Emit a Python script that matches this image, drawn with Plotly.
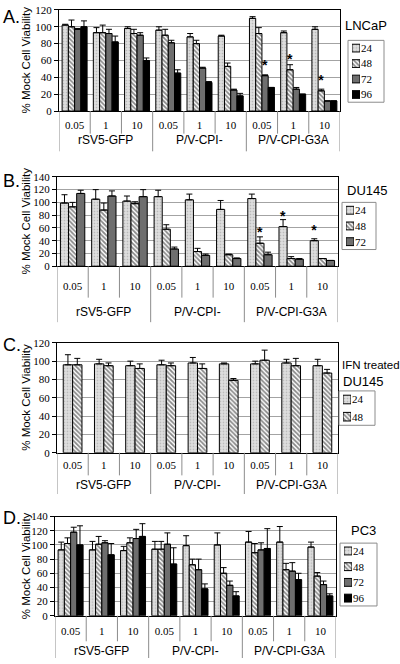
import plotly.graph_objects as go

W, H = 400, 664
SERIF = "Liberation Serif, Times New Roman, serif"
SANS = "Liberation Sans, Arial, sans-serif"

# ---------------- data ----------------
groups = ["rSV5-GFP", "P/V-CPI-", "P/V-CPI-G3A"]
doses = ["0.05", "1", "10"]
categories = [f"{g} {d}" for g in groups for d in doses]
dose_ticks = [d for g in groups for d in doses]

hours_4 = ["24", "48", "72", "96"]
hours_3 = ["24", "48", "72"]
hours_2 = ["24", "48"]

# A. LNCaP
A_24 = [102, 93, 98, 96, 88, 89, 110, 93, 97]
A_24_err = [1, 6, 2, 4, 4, 1, 2, 2, 3]
A_48 = [100, 93, 92, 90, 80, 53, 92, 49, 24]
A_48_err = [8, 9, 5, 7, 4, 4, 7, 6, 2]
A_72 = [97, 92, 90, 81, 51, 25, 42, 26, 12]
A_72_err = [1, 5, 3, 3, 1, 1, 1, 2, 0]
A_96 = [100, 82, 60, 45, 34, 18, 28, 20, 12]
A_96_err = [7, 7, 3, 4, 1, 3, 0, 0, 0]
A_stars = [[], [7, 8], [6], []]

# B. DU145
B_24 = [99, 105, 102, 109, 104, 89, 106, 62, 40]
B_24_err = [13, 15, 8, 10, 9, 14, 7, 11, 3]
B_48 = [93, 88, 98, 58, 23, 18, 36, 12, 12]
B_48_err = [7, 11, 3, 7, 5, 1, 10, 3, 0]
B_72 = [114, 110, 109, 27, 17, 12, 18, 11, 9]
B_72_err = [5, 8, 11, 3, 2, 1, 4, 1, 0]
B_stars = [[7, 8], [6], []]

# C. IFN treated DU145
C_24 = [96, 97, 95, 96, 98, 97, 97, 98, 95]
C_24_err = [11, 5, 5, 5, 6, 1, 3, 4, 7]
C_48 = [96, 95, 92, 95, 92, 79, 101, 95, 87]
C_48_err = [7, 3, 5, 3, 5, 2, 11, 8, 4]
C_stars = [[], []]

# D. PC3
D_24 = [93, 93, 92, 94, 99, 100, 104, 104, 97]
D_24_err = [11, 12, 6, 11, 14, 17, 15, 22, 7]
D_48 = [102, 101, 103, 94, 72, 60, 89, 65, 56]
D_48_err = [8, 11, 7, 11, 8, 8, 13, 9, 5]
D_72 = [118, 103, 109, 101, 65, 43, 93, 63, 44]
D_72_err = [7, 3, 13, 16, 15, 6, 10, 12, 5]
D_96 = [100, 86, 112, 73, 38, 28, 95, 51, 28]
D_96_err = [27, 16, 18, 23, 7, 6, 28, 9, 3]
D_stars = [[], [], [], []]

# ---------------- styles ----------------
STYLE = {
    "24": dict(color="#dcdcdc", pattern=dict(shape=".", fgcolor="#8e8e8e", bgcolor="#dedede", size=3, solidity=0.25)),
    "48": dict(color="white", pattern=dict(shape="\\", fgcolor="#111111", bgcolor="white", size=3.2, solidity=0.55)),
    "72": dict(color="#6e6e6e"),
    "96": dict(color="#000000"),
}

panels = [
    dict(letter="A.", hours=hours_4, values=[A_24, A_48, A_72, A_96],
         errors=[A_24_err, A_48_err, A_72_err, A_96_err], stars=A_stars, ymax=120,
         box=(59, 4, 340, 107), bw=0.2, tl=4, short=23, long=41, grp=29, letter_y=11,
         lbox=(348, 35, 384, 98), swx=(352, 360),
         cells=[("LNCaP", 366, 20, "center", 13)]),
    dict(letter="B.", hours=hours_3, values=[B_24, B_48, B_72],
         errors=[B_24_err, B_48_err, B_72_err], stars=B_stars, ymax=140,
         box=(57, 174, 338, 265), bw=0.26, tl=10, short=32, long=57, grp=47, letter_y=178,
         lbox=(342, 200, 376, 248), swx=(346, 354),
         cells=[("DU145", 367, 188, "center", 13)]),
    dict(letter="C.", hours=hours_2, values=[C_24, C_48],
         errors=[C_24_err, C_48_err], stars=C_stars, ymax=120,
         box=(57, 343, 338, 455), bw=0.3, tl=2, short=23, long=42, grp=33, letter_y=345,
         lbox=(339, 392, 375, 427), swx=(343, 351),
         cells=[("IFN treated", 340, 366, "left", 11.5), ("DU145", 341, 382, "left", 13)]),
    dict(letter="D.", hours=hours_4, values=[D_24, D_48, D_72, D_96],
         errors=[D_24_err, D_48_err, D_72_err, D_96_err], stars=D_stars, ymax=140,
         box=(55, 520, 336, 621), bw=0.2, tl=5, short=26, long=43, grp=36, letter_y=521,
         lbox=(340, 547, 377, 611), swx=(344, 352),
         cells=[("PC3", 363, 534, "center", 13)]),
]


def marker_for(h):
    st = STYLE[h]
    m = dict(color=st["color"], line=dict(color="black", width=1))
    if "pattern" in st:
        m["pattern"] = st["pattern"]
    return m


fig = go.Figure()
axes = {}
shapes = []
annotations = []
star_font = dict(family=SANS, size=14, color="#000000", weight="bold")

for k, p in enumerate(panels, start=1):
    sfx = "" if k == 1 else str(k)
    xa, ya = "x" + sfx, "y" + sfx
    x0, y0, x1, y1 = p["box"]
    ph = y1 - y0
    n = len(p["hours"])
    bw = p["bw"]
    for i, h in enumerate(p["hours"]):
        fig.add_trace(go.Bar(
            x=categories, y=p["values"][i], width=bw, offset=-n * bw / 2 + i * bw,
            marker=marker_for(h),
            error_y=dict(type="data", array=p["errors"][i], arrayminus=[0] * len(categories),
                         symmetric=False, color="black", thickness=1, width=3),
            text=["*" if j in p["stars"][i] else "" for j in range(len(categories))],
            textposition="outside", constraintext="none", cliponaxis=False,
            textfont=star_font, outsidetextfont=star_font,
            xaxis=xa, yaxis=ya, showlegend=False, hoverinfo="skip"))

    axes["xaxis" + sfx] = dict(
        domain=[x0 / W, x1 / W], anchor=ya, type="category", categoryorder="array",
        categoryarray=categories, tickmode="array", tickvals=categories, ticktext=dose_ticks,
        tickfont=dict(family=SERIF, size=11, color="black"), ticks="outside", ticklen=p["tl"],
        tickcolor="rgba(0,0,0,0)", showline=True, linecolor="black", linewidth=1, mirror=True,
        showgrid=False, zeroline=False, range=[-0.5, len(categories) - 0.5], fixedrange=True)
    axes["yaxis" + sfx] = dict(
        domain=[1 - y1 / H, 1 - y0 / H], anchor=xa, range=[0, p["ymax"]], tick0=0, dtick=20,
        tickfont=dict(family=SERIF, size=11, color="black"), ticks="outside", ticklen=4,
        tickcolor="black", showline=True, linecolor="black", linewidth=1, mirror=True,
        showgrid=True, gridcolor="#a3a3a3", gridwidth=1, zeroline=False, fixedrange=True)

    # category dividers
    for b in range(len(categories) + 1):
        length = p["long"] if b % 3 == 0 else p["short"]
        shapes.append(dict(type="line", xref=xa, yref=ya + " domain", x0=b - 0.5, x1=b - 0.5,
                           y0=0, y1=-length / ph, line=dict(color="#8c8c8c", width=1)))
    # group labels
    for g, name in enumerate(groups):
        annotations.append(dict(xref=xa, yref=ya + " domain", x=categories[3 * g + 1],
                                y=-p["grp"] / ph, text=name, showarrow=False,
                                font=dict(family=SANS, size=12, color="black"),
                                xanchor="center", yanchor="middle"))
    # panel letter
    annotations.append(dict(xref="paper", yref="paper", x=1 / W, y=1 - p["letter_y"] / H,
                            text=p["letter"], showarrow=False,
                            font=dict(family=SANS, size=18, color="black"),
                            xanchor="left", yanchor="middle"))
    # y title
    annotations.append(dict(xref="paper", yref=ya + " domain", x=26 / W, y=0.5,
                            text="% Mock Cell Viability", textangle=-90, showarrow=False,
                            font=dict(family=SANS, size=11.5, color="black"),
                            xanchor="center", yanchor="middle"))
    # cell line labels
    for txt, cx, cy, anc, fs in p["cells"]:
        annotations.append(dict(xref="paper", yref="paper", x=cx / W, y=1 - cy / H, text=txt,
                                showarrow=False, font=dict(family=SANS, size=fs, color="black"),
                                xanchor=anc, yanchor="middle"))

    # custom legend (swatches drawn as bars on a small hidden axis)
    lsfx = str(k + 4)
    lx0, ly0, lx1, ly1 = p["lbox"]
    sw0, sw1 = p["swx"]
    axes["xaxis" + lsfx] = dict(domain=[sw0 / W, sw1 / W], anchor="y" + lsfx, range=[0, 1],
                                visible=False, fixedrange=True)
    axes["yaxis" + lsfx] = dict(domain=[1 - ly1 / H, 1 - ly0 / H], anchor="x" + lsfx,
                                type="category", categoryorder="array", categoryarray=p["hours"],
                                range=[n - 0.5, -0.5], side="right", showgrid=False,
                                showline=False, zeroline=False, ticks="",
                                tickfont=dict(family=SERIF, size=11, color="black"),
                                fixedrange=True)
    for h in p["hours"]:
        fig.add_trace(go.Bar(orientation="h", y=[h], x=[1], width=0.5, offset=-0.25,
                             marker=marker_for(h), xaxis="x" + lsfx, yaxis="y" + lsfx,
                             showlegend=False, hoverinfo="skip"))
    shapes.append(dict(type="rect", xref="paper", yref="paper", x0=lx0 / W, x1=lx1 / W,
                       y0=1 - ly1 / H, y1=1 - ly0 / H, line=dict(color="#8c8c8c", width=1)))

fig.update_layout(
    width=W, height=H, margin=dict(l=0, r=0, t=0, b=0),
    paper_bgcolor="white", plot_bgcolor="white", barmode="overlay", showlegend=False,
    shapes=shapes, annotations=annotations, **axes)

fig.write_html("out.html", config={"displayModeBar": False},
               post_script="document.body.style.margin='0px';")
